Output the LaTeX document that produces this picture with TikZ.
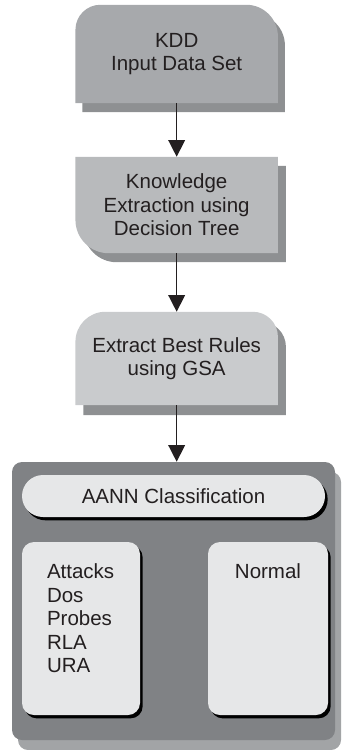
\documentclass[tikz,border=0pt]{standalone}
\usepackage{fontspec}
\setmainfont{Liberation Sans}
\usetikzlibrary{arrows.meta,shadows,backgrounds}
\definecolor{boxa}{HTML}{A7A9AC}
\definecolor{boxb}{HTML}{B8BABC}
\definecolor{boxc}{HTML}{C9CBCD}
\definecolor{shade}{HTML}{8E9092}
\definecolor{panel}{HTML}{808285}
\definecolor{panelshade}{HTML}{A2A4A6}
\definecolor{inner}{HTML}{E6E7E8}
\definecolor{ink}{HTML}{231F20}

\begin{document}
\begin{tikzpicture}[font=\fontsize{17.5}{20}\selectfont, text=ink,
    stage/.style={minimum width=6.06cm, align=center, inner sep=0pt},
    flow/.style={draw=ink, line width=1.2pt, -{Triangle[width=0.5cm,length=0.5cm]}},
    inbox/.style={fill=inner, rounded corners=0.36cm, inner sep=0pt,
      drop shadow={shadow xshift=0.08cm, shadow yshift=-0.1cm, fill=black, opacity=1}}]
    \useasboundingbox (0,0) rectangle (10.29,-22.5);
    \node[stage, minimum height=2.94cm] (kdd) at (5.3,-1.62) {KDD\\Input Data Set};
    \node[stage, minimum height=2.88cm] (dt) at (5.3,-6.15) {Knowledge\\Extraction using\\Decision Tree};
    \node[stage, minimum height=2.79cm] (gsa) at (5.3,-10.755) {Extract Best Rules\\using GSA};
    \begin{pgfonlayer}{background}
        \fill[boxa, drop shadow={shadow xshift=0.21cm, shadow yshift=-0.27cm, fill=shade, opacity=1}]
            (kdd.south west) -- ([yshift=-0.75cm]kdd.north west) arc[start angle=180, end angle=90, radius=0.75cm]
            -- ([xshift=-0.95cm]kdd.north east) arc[start angle=90, end angle=0, radius=0.95cm]
            -- (kdd.south east) -- cycle;
        \fill[boxb, drop shadow={shadow xshift=0.24cm, shadow yshift=-0.27cm, fill=shade, opacity=1}]
            (dt.north west) -- (dt.north east) -- (dt.south east)
            -- ([xshift=1cm]dt.south west) arc[start angle=270, end angle=180, radius=1cm] -- cycle;
        \fill[boxc, drop shadow={shadow xshift=0.24cm, shadow yshift=-0.3cm, fill=shade, opacity=1}]
            (gsa.south west) -- ([yshift=-0.9cm]gsa.north west) arc[start angle=180, end angle=90, radius=0.9cm]
            -- ([xshift=-0.75cm]gsa.north east) arc[start angle=90, end angle=0, radius=0.75cm]
            -- (gsa.south east) -- cycle;
    \end{pgfonlayer}
    % classifier panel
    \node[fill=panel, rounded corners=0.3cm, minimum width=9.69cm, minimum height=8.34cm,
        drop shadow={shadow xshift=0.18cm, shadow yshift=-0.3cm, fill=panelshade, opacity=1}] (aann) at (5.205,-18.03) {};
    \node[inbox, minimum width=9.09cm, minimum height=1.26cm, rounded corners=0.63cm] (cls) at (5.205,-14.88) {AANN Classification};
    \node[inbox, minimum width=3.54cm, minimum height=5.19cm] (atk) at (2.43,-18.855) {};
    \node[inbox, minimum width=3.6cm, minimum height=5.19cm] (nrm) at (8.04,-18.855) {};
    \node[anchor=north west, align=left, inner sep=0pt] (atklist) at ([xshift=0.75cm,yshift=-0.66cm]atk.north west) {Attacks\\Dos\\Probes\\RLA\\URA};
    \node[anchor=north, inner sep=0pt] (nrmlabel) at ([yshift=-0.66cm]nrm.north) {Normal};
    \draw[flow] (kdd) -- (dt);
    \draw[flow] (dt) -- (gsa);
    \draw[flow] (gsa) -- (gsa |- aann.north);
\end{tikzpicture}
\end{document}
